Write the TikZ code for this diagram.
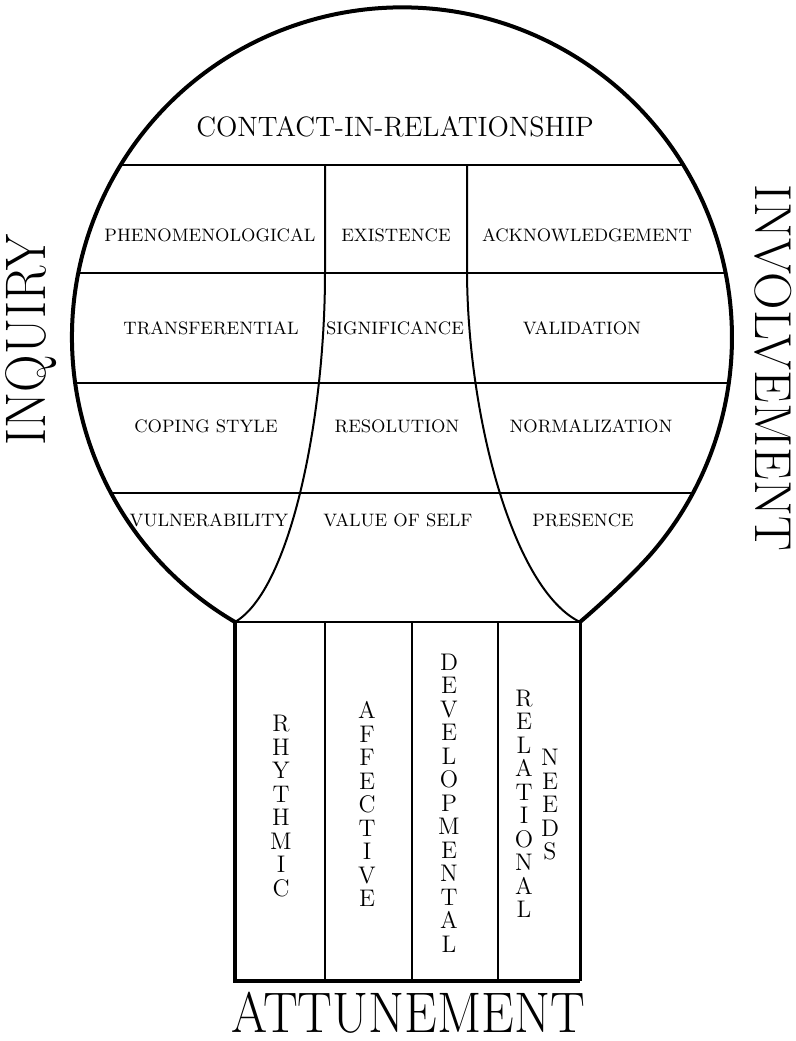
\documentclass[tikz,border=0pt]{standalone}
\usepackage{amsmath}
\begin{document}
\begin{tikzpicture}[x=0.5pt, y=-0.5pt,
        cell/.style = {font = {\fontsize{9}{10}\selectfont}, black, inner sep=0pt},
        side/.style = {font = {\fontsize{26}{26}\selectfont}, black, inner sep=0pt},
        stack/.style = {font = {\fontsize{12}{11.75}\selectfont}, black, align=center, inner sep=0pt},
        rim/.style = {line width=2pt, line join=round},
        bar/.style = {line width=1pt}]
        \useasboundingbox (0,0) rectangle (796,1041);
        \coordinate (c) at (402,337);
        \coordinate (nl) at (235,622);
        \coordinate (nr) at (580,622);
        \coordinate (bl) at (235,981);
        \coordinate (br) at (580,981);
        \begin{scope}
            \clip (c) circle[radius=330];
            \draw[bar] (0,165) -- (800,165);
            \draw[bar] (0,273) -- (800,273);
            \draw[bar] (0,383) -- (800,383);
            \draw[bar] (0,493) -- (800,493);
        \end{scope}
        \draw[bar] (325,165) -- (325,273) .. controls (325,420) and (290,590) .. (nl);
        \draw[bar] (467,165) -- (467,273) .. controls (468,420) and (514,590) .. (nr);
        \draw[rim] (nl) arc[start angle=120.4, end angle=400, radius=330] .. controls (636,572) and (600,605) .. (nr);
        \draw[bar] (nl) -- (nr);
        \draw[bar] (325,622) -- (325,981);
        \draw[bar] (412,622) -- (412,981);
        \draw[bar] (498,622) -- (498,981);
        \draw[line width=2pt] (nl) -- (bl) -- (br);
        \draw[line width=1.5pt] (nr) -- (br);
        \node[font = {\fontsize{14}{16}\selectfont}, black] (contact) at (395,127) {CONTACT-IN-RELATIONSHIP};
        \node[cell] (phen) at (210,235) {PHENOMENOLOGICAL};
        \node[cell] (exist) at (396,235) {EXISTENCE};
        \node[cell] (ackn) at (587,235) {ACKNOWLEDGEMENT};
        \node[cell] (trans) at (211,328) {TRANSFERENTIAL};
        \node[cell] (signif) at (395,328) {SIGNIFICANCE};
        \node[cell] (valid) at (582,328) {VALIDATION};
        \node[cell] (coping) at (206,426) {COPING STYLE};
        \node[cell] (resol) at (397,426) {RESOLUTION};
        \node[cell] (normal) at (591,426) {NORMALIZATION};
        \node[cell] (vulner) at (209,520) {VULNERABILITY};
        \node[cell] (value) at (398,520) {VALUE OF SELF};
        \node[cell] (presence) at (583,520) {PRESENCE};
        \node[stack] (rhythm) at (281,806) {R\\H\\Y\\T\\H\\M\\I\\C};
        \node[stack] (affect) at (367,804) {A\\F\\F\\E\\C\\T\\I\\V\\E};
        \node[stack] (develop) at (449,803) {D\\E\\V\\E\\L\\O\\P\\M\\E\\N\\T\\A\\L};
        \node[stack] (relat) at (524,804) {R\\E\\L\\A\\T\\I\\O\\N\\A\\L};
        \node[stack] (needs) at (550,805) {N\\E\\E\\D\\S};
        \node[side, rotate=90] (inquiry) at (31,340) {\scalebox{1}[1.1]{INQUIRY}};
        \node[side, rotate=-90] (involve) at (773,368) {INVOLVEMENT};
        \node[side] (attune) at (408,1013) {\scalebox{1}[1.1]{ATTUNEMENT}};
    \end{tikzpicture}
\end{document}
